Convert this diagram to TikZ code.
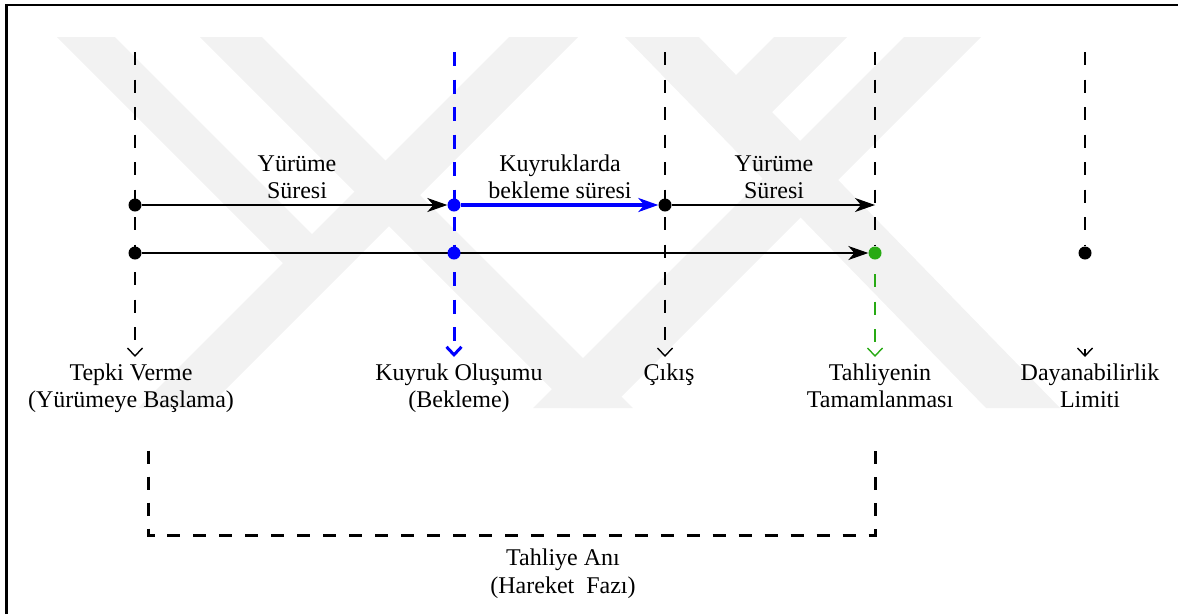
\documentclass[tikz,border=0pt]{standalone}
\usepackage{fontspec}
\setmainfont{Liberation Serif}
\usetikzlibrary{arrows.meta}
\definecolor{myblue}{RGB}{0,0,255}
\definecolor{mygreen}{RGB}{40,170,20}
\definecolor{wm}{RGB}{242,242,242}
\pgfdeclarelayer{wmlayer}
\pgfdeclarelayer{lines}
\pgfsetlayers{wmlayer,lines,main}
\begin{document}
\begin{tikzpicture}[x=1pt,y=-1pt,
  dotnode/.style={circle,fill=#1,inner sep=0pt,minimum size=13pt},
  lbl/.style={anchor=base,inner sep=0pt,font=\fontsize{24}{27}\selectfont},
  vdash/.style={line width=1.4pt,dash pattern=on 13pt off 14.5pt},
  bdash/.style={line width=3pt,dash pattern=on 14pt off 13.5pt},
  harrow/.style={line width=1.1pt,-{Stealth[length=20pt,width=14pt,inset=6pt]}},
  barb/.style={-{Straight Barb[length=8pt,width=15pt]}},
  bracket/.style={line width=3pt,dash pattern=on 13pt off 12.964pt,dash phase=15.35pt}
]
\useasboundingbox (0,0) rectangle (1178,614);
% frame
\draw[line width=2.5pt] (6.5,614) -- (6.5,5) -- (1178,5);

% watermark
\begin{pgfonlayer}{wmlayer}
\fill[wm] (57,37) -- (115,37) -- (329,251) -- (300,280) -- cycle;
\fill[wm] (200,37) -- (262,37) -- (633,408) -- (571,408) -- cycle;
\fill[wm] (509,37) -- (578,37) -- (207,408) -- (138,408) -- cycle;
\fill[wm] (625,37) -- (699,37) -- (1060,408) -- (986,408) -- cycle;
\fill[wm] (774,37) -- (847,37) -- (753,131) -- (717,94) -- cycle;
\fill[wm] (904,37) -- (981,37) -- (610,408) -- (533,408) -- cycle;
\end{pgfonlayer}

% dots
\node[dotnode=black] (a1) at (135,205) {};
\node[dotnode=black] (a2) at (135,253) {};
\node[dotnode=myblue] (b1) at (454,205) {};
\node[dotnode=myblue] (b2) at (454,253) {};
\node[dotnode=black] (c1) at (665,205) {};
\node[dotnode=mygreen] (d2) at (875,253) {};
\node[dotnode=black] (e2) at (1085,253) {};

% coordinates
\coordinate (ta) at (135,52);  \coordinate (ea) at (135,357);
\coordinate (tb) at (454,52);  \coordinate (eb) at (454,357);
\coordinate (tc) at (665,52);  \coordinate (ec) at (665,357);
\coordinate (td) at (875,52);  \coordinate (ed) at (875,357);
\coordinate (te) at (1085,52); \coordinate (ee) at (1085,357);
\coordinate (se) at (1085,349);
\coordinate (d1) at (875,205);

\begin{pgfonlayer}{lines}
\draw[vdash,barb] (ta) -- (ea);
\draw[vdash,barb] (tc) -- (ec);
\draw[vdash] (td) -- (d2);
\draw[vdash,mygreen,barb,dash phase=13pt] (d2) -- (ed);
\draw[vdash] (te) -- (e2);
\draw[line width=1.4pt,barb] (se) -- (ee);
\draw[bdash,myblue,barb] (tb) -- (eb);
% horizontal arrows
\draw[harrow] (a1) -- (b1);
\draw[harrow] (c1) -- (d1);
\draw[harrow] (a2) -- (d2);
\draw[line width=3.2pt,myblue,-{Stealth[length=20pt,width=14pt,inset=6pt]}] (b1) -- (c1);
\end{pgfonlayer}

% labels above
\node[lbl] (l1a) at (297,171) {Yürüme};
\node[lbl] (l1b) at (297,198) {Süresi};
\node[lbl] (l2a) at (560,171) {Kuyruklarda};
\node[lbl] (l2b) at (560,198) {bekleme süresi};
\node[lbl] (l3a) at (774,171) {Yürüme};
\node[lbl] (l3b) at (774,198) {Süresi};

% labels below
\node[lbl] (n1a) at (131,380) {Tepki Verme};
\node[lbl] (n1b) at (131,407) {(Yürümeye Başlama)};
\node[lbl] (n2a) at (459,380) {Kuyruk Oluşumu};
\node[lbl] (n2b) at (459,407) {(Bekleme)};
\node[lbl] (n3a) at (669,380) {Çıkış};
\node[lbl] (n4a) at (880,380) {Tahliyenin};
\node[lbl] (n4b) at (880,407) {Tamamlanması};
\node[lbl] (n5a) at (1090,380) {Dayanabilirlik};
\node[lbl] (n5b) at (1090,407) {Limiti};

% bracket
\coordinate (k1) at (148,440);
\coordinate (k2) at (148,535);
\coordinate (k3) at (875,535);
\coordinate (k4) at (875,440);
\draw[bracket] (k1) -- (k2) -- (k3) -- (k4);
\node[lbl] (m1) at (563,565) {Tahliye Anı};
\node[lbl] (m2) at (563,593) {(Hareket\ \ Fazı)};
\end{tikzpicture}
\end{document}
